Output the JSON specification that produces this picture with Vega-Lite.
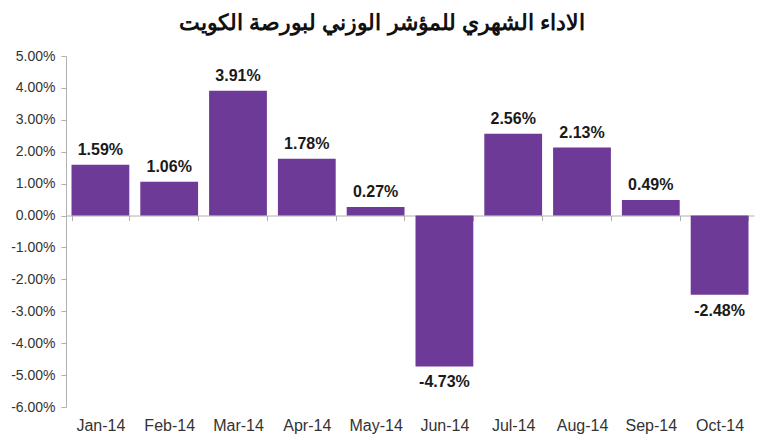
{
  "$schema": "https://vega.github.io/schema/vega-lite/v6.json",
  "width": 688,
  "height": 351,
  "padding": {"left": 66, "top": 56, "right": 16, "bottom": 40},
  "autosize": "none",
  "background": "white",
  "title": {
    "text": "الاداء الشهري للمؤشر الوزني لبورصة الكويت",
    "font": "Liberation Sans",
    "fontSize": 22,
    "fontWeight": "bold",
    "color": "#111111",
    "anchor": "middle",
    "dx": -28,
    "offset": 14
  },
  "config": {
    "view": {"stroke": null},
    "locale": {"number": {"decimal": ".", "thousands": ",", "grouping": [3], "currency": ["$", ""], "minus": "-"}},
    "axis": {"labelFont": "Liberation Sans", "labelColor": "#333333", "labelFontSize": 14}
  },
  "data": {
    "values": [
      {"month": "Jan-14", "v": 0.0159},
      {"month": "Feb-14", "v": 0.0106},
      {"month": "Mar-14", "v": 0.0391},
      {"month": "Apr-14", "v": 0.0178},
      {"month": "May-14", "v": 0.0027},
      {"month": "Jun-14", "v": -0.0473},
      {"month": "Jul-14", "v": 0.0256},
      {"month": "Aug-14", "v": 0.0213},
      {"month": "Sep-14", "v": 0.0049},
      {"month": "Oct-14", "v": -0.0248}
    ]
  },
  "encoding": {
    "x": {
      "field": "month",
      "type": "nominal",
      "sort": null,
      "title": null,
      "scale": {"paddingInner": 0.16, "paddingOuter": 0.08},
      "axis": {
        "orient": "bottom",
        "offset": -191.5,
        "labelAngle": 0,
        "labelFontSize": 16,
        "domainColor": "#b0b0b0",
        "tickColor": "#b0b0b0",
        "tickBand": "extent",
        "tickSize": 5,
        "labelPadding": 197,
        "labelBaseline": "top"
      }
    },
    "y": {
      "field": "v",
      "type": "quantitative",
      "title": null,
      "scale": {"domain": [-0.06, 0.05], "nice": false, "zero": false},
      "axis": {
        "format": ".2%",
        "values": [-0.06, -0.05, -0.04, -0.03, -0.02, -0.01, 0, 0.01, 0.02, 0.03, 0.04, 0.05],
        "grid": false,
        "domainColor": "#b0b0b0",
        "tickColor": "#b0b0b0",
        "tickSize": 5,
        "labelPadding": 6
      }
    }
  },
  "layer": [
    {"mark": {"type": "bar", "color": "#6d3a97"}},
    {
      "transform": [{"filter": "datum.v >= 0"}],
      "mark": {"type": "text", "baseline": "bottom", "dy": -7, "font": "Liberation Sans", "fontSize": 16, "fontWeight": "bold", "color": "#1a1a1a"},
      "encoding": {"text": {"field": "v", "format": ".2%"}}
    },
    {
      "transform": [{"filter": "datum.v < 0"}],
      "mark": {"type": "text", "baseline": "top", "dy": 8, "font": "Liberation Sans", "fontSize": 16, "fontWeight": "bold", "color": "#1a1a1a"},
      "encoding": {"text": {"field": "v", "format": ".2%"}}
    }
  ]
}
